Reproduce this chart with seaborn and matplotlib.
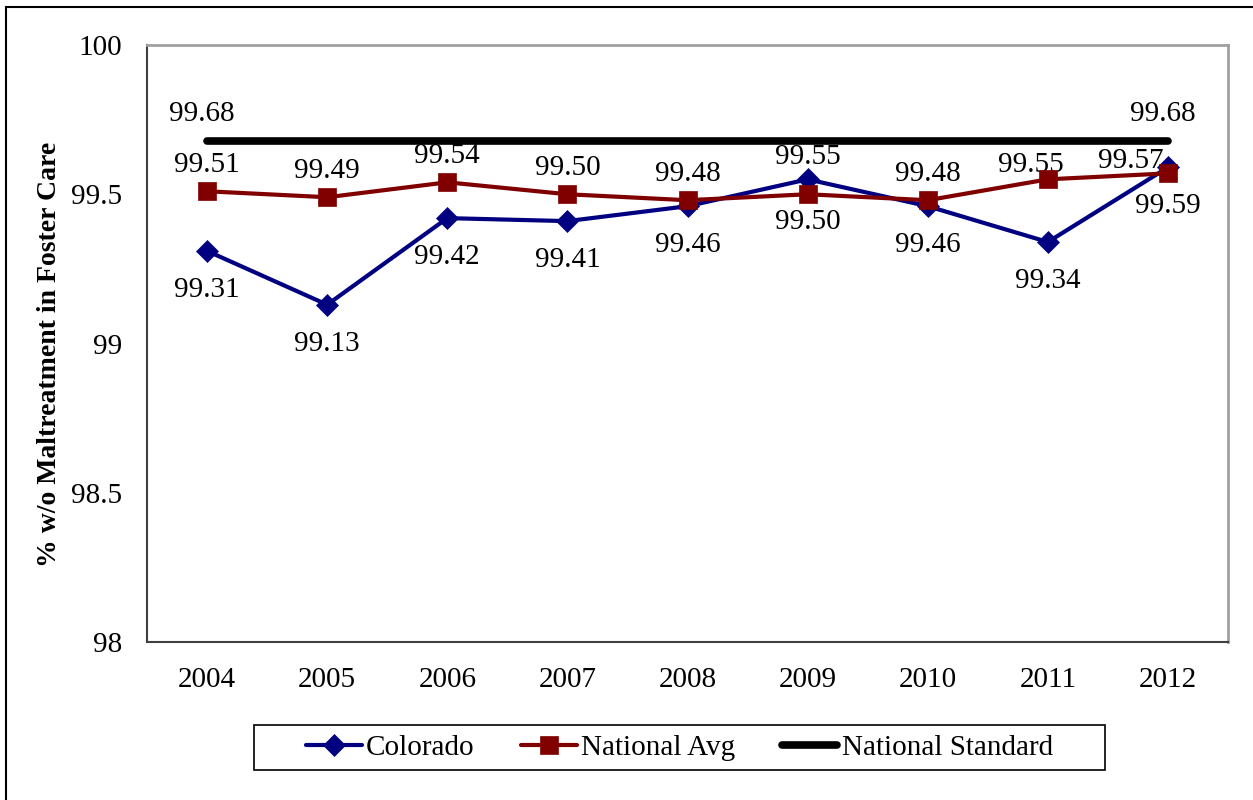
import numpy as np
import pandas as pd
import seaborn as sns
import matplotlib.pyplot as plt
from matplotlib.patches import Rectangle

# data
years = ['2004', '2005', '2006', '2007', '2008', '2009', '2010', '2011', '2012']
colorado = [99.31, 99.13, 99.42, 99.41, 99.46, 99.55, 99.46, 99.34, 99.59]
national_avg = [99.51, 99.49, 99.54, 99.50, 99.48, 99.50, 99.48, 99.55, 99.57]
national_std = [99.68, 99.68, 99.68, 99.68, 99.68, 99.68, 99.68, 99.68, 99.68]
y_ticks = [98, 98.5, 99, 99.5, 100]
y_tick_labels = ['98', '98.5', '99', '99.5', '100']

# label offsets in points (dx, dy), kept apart from the values
col_offsets = [(0, -28)] * 9
col_offsets[5] = (0, 16)
avg_offsets = [(0, 19)] * 9
avg_offsets[5] = (0, -20)
avg_offsets[7] = (-12, 10)
avg_offsets[8] = (-27, 9)
std_offsets = {0: (-4, 19), 8: (-4, 19)}

sns.set_style('white')
plt.rcParams['font.family'] = ['Liberation Serif', 'DejaVu Serif']
plt.rcParams['text.color'] = 'black'
plt.rcParams['axes.labelcolor'] = 'black'
plt.rcParams['xtick.color'] = 'black'
plt.rcParams['ytick.color'] = 'black'

df = pd.DataFrame({
    'pos': np.arange(len(years)),
    'Colorado': colorado,
    'National Avg': national_avg,
    'National Standard': national_std,
})

fig = plt.figure(figsize=(12.53, 8), dpi=100)
ax = fig.add_axes([147 / 1253, 158 / 800, 1081 / 1253, 597 / 800])

sns.lineplot(data=df, x='pos', y='Colorado', ax=ax, color='#000080', linewidth=3,
             marker='D', markersize=11.5, markeredgecolor='#000080', markeredgewidth=0.5,
             label='Colorado', zorder=3)
sns.lineplot(data=df, x='pos', y='National Avg', ax=ax, color='#800000', linewidth=3,
             marker='s', markersize=13, markeredgecolor='#800000', markeredgewidth=0.5,
             label='National Avg', zorder=4)
sns.lineplot(data=df, x='pos', y='National Standard', ax=ax, color='black', linewidth=5.5,
             solid_capstyle='round', label='National Standard', zorder=2)

for i, v in enumerate(colorado):
    ax.annotate(f'{v:.2f}', xy=(i, v), xytext=col_offsets[i], textcoords='offset points',
                ha='center', va='center', fontsize=21, color='black')
for i, v in enumerate(national_avg):
    ax.annotate(f'{v:.2f}', xy=(i, v), xytext=avg_offsets[i], textcoords='offset points',
                ha='center', va='center', fontsize=21, color='black')
for i, off in std_offsets.items():
    ax.annotate(f'{national_std[i]:.2f}', xy=(i, national_std[i]), xytext=off,
                textcoords='offset points', ha='center', va='center', fontsize=21,
                color='black')

ax.set_xlim(-0.5, len(years) - 0.5)
ax.set_ylim(98, 100)
ax.set_yticks(y_ticks)
ax.set_yticklabels(y_tick_labels)
ax.set_xticks(np.arange(len(years) + 1) - 0.5)
ax.set_xticklabels([''] * (len(years) + 1))
ax.set_xticks(np.arange(len(years)), minor=True)
ax.set_xticklabels(years, minor=True)
ax.tick_params(axis='x', which='major', direction='out', length=7, width=1, color='#404040')
ax.tick_params(axis='x', which='minor', length=0, pad=18, labelsize=21, labelcolor='black')
ax.tick_params(axis='y', direction='out', length=7, width=1, color='#404040', pad=11,
               labelsize=21, labelcolor='black')
ax.set_xlabel('')
ax.set_ylabel('% w/o Maltreatment in Foster Care', fontsize=20, fontweight='bold',
              color='black')
ax.yaxis.set_label_coords(-0.0785, 0.481)

for side in ['left', 'bottom']:
    ax.spines[side].set_color('#404040')
    ax.spines[side].set_linewidth(1.5)
for side in ['top', 'right']:
    ax.spines[side].set_color('#a0a0a0')
    ax.spines[side].set_linewidth(2)

handles, labels = ax.get_legend_handles_labels()
ax.get_legend().remove()
fig.legend(handles, labels, loc='center', bbox_to_anchor=(0.5423, 0.0656), ncol=3,
           frameon=False, fontsize=21, handlelength=1.9, handletextpad=0.15,
           columnspacing=1.6, labelcolor='black')
fig.add_artist(Rectangle((254 / 1253, 30 / 800), 851 / 1253, 45 / 800,
                         transform=fig.transFigure, fill=False, ec='black', lw=1.2))
# outer chart border (cut off at the right and bottom)
fig.add_artist(Rectangle((6 / 1253, -0.05), 1.2, 793 / 800 + 0.05,
                         transform=fig.transFigure, fill=False, ec='black', lw=1.5))

fig.savefig('out.png', dpi=100)
